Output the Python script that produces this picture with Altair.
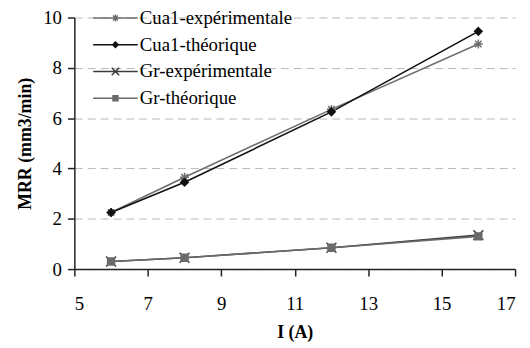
import altair as alt
import pandas as pd

# ---- data ----
current_A = [6, 8, 12, 16]
cua1_exp = [2.25, 3.65, 6.35, 8.95]
cua1_theo = [2.25, 3.45, 6.25, 9.45]
gr_exp = [0.3, 0.45, 0.85, 1.35]
gr_theo = [0.3, 0.45, 0.85, 1.3]
series_names = ["Cua1-expérimentale", "Cua1-théorique", "Gr-expérimentale", "Gr-théorique"]
x_ticks = [5, 7, 9, 11, 13, 15, 17]
y_ticks = [0, 2, 4, 6, 8, 10]

# ---- styles ----
colors = ["#6e6e6e", "#111111", "#3c3c3c", "#6a6a6a"]
marker_paths = [
    "M-0.9,0L0.9,0M0,-0.9L0,0.9M-0.65,-0.65L0.65,0.65M-0.65,0.65L0.65,-0.65",
    "M0,-0.75L0.75,0L0,0.75L-0.75,0Z",
    "M-1,-1L1,1M-1,1L1,-1",
    "M-0.7,-0.7L0.7,-0.7L0.7,0.7L-0.7,0.7Z",
]
legend_paths = [
    "M-4.5,0L4.5,0M-0.7,0L0.7,0M0,-0.7L0,0.7M-0.5,-0.5L0.5,0.5M-0.5,0.5L0.5,-0.5",
    "M-4.5,0L4.5,0M0,-0.55L0.55,0L0,0.55L-0.55,0Z",
    "M-4.5,0L4.5,0M-0.75,-0.75L0.75,0.75M-0.75,0.75L0.75,-0.75",
    "M-4.5,0L4.5,0M-0.5,-0.5L0.5,-0.5L0.5,0.5L-0.5,0.5Z",
]

rows = []
for name, vals in zip(series_names, [cua1_exp, cua1_theo, gr_exp, gr_theo]):
    for xv, yv in zip(current_A, vals):
        rows.append({"I": xv, "MRR": yv, "s": name, "label": name})
df = pd.DataFrame(rows)

FONT = "Liberation Serif, Times New Roman, serif"

x_enc = alt.X("I:Q", scale=alt.Scale(domain=[5, 17], nice=False),
              axis=alt.Axis(values=x_ticks, title="I (A)", grid=False))
y_enc = alt.Y("MRR:Q", scale=alt.Scale(domain=[0, 10], nice=False),
              axis=alt.Axis(values=y_ticks, title="MRR (mm3/min)", grid=True,
                            gridDash=[8, 5], gridColor="#b8b8b8", gridWidth=1))

cscale = alt.Scale(domain=series_names, range=colors)

base = alt.Chart(df)

lines = base.mark_line(strokeWidth=1.6).encode(
    x=x_enc, y=y_enc,
    color=alt.Color("s:N", scale=cscale, legend=None),
    detail="s:N",
)

points = base.mark_point(filled=True, strokeWidth=1.5, opacity=1).encode(
    x=x_enc, y=y_enc,
    shape=alt.Shape("s:N", scale=alt.Scale(domain=series_names, range=marker_paths), legend=None),
    fill=alt.Fill("s:N", scale=cscale, legend=None),
    stroke=alt.Stroke("s:N", scale=cscale, legend=None),
    size=alt.value(100),
)

leg = alt.Legend(orient="none", legendX=32, legendY=-9, title=None,
                 symbolSize=100, symbolStrokeWidth=1.5, labelFont=FONT,
                 labelFontSize=19, labelOffset=15, rowPadding=7, padding=0,
                 labelColor="#000000", symbolOpacity=1, labelLimit=400)

legend_layer = base.mark_point(filled=True, strokeWidth=1.5).encode(
    x=x_enc, y=y_enc,
    shape=alt.Shape("label:N", scale=alt.Scale(domain=series_names, range=legend_paths), legend=leg),
    fill=alt.Fill("label:N", scale=alt.Scale(domain=series_names, range=colors), legend=leg),
    stroke=alt.Stroke("label:N", scale=alt.Scale(domain=series_names, range=colors), legend=leg),
).transform_filter("false")

chart = alt.layer(lines, points, legend_layer).resolve_scale(
    shape="independent", fill="independent", stroke="independent"
).properties(
    width=445, height=254,
    autosize=alt.AutoSizeParams(type="none"),
    padding={"left": 67, "top": 8, "right": 7, "bottom": 72},
).configure_view(stroke=None).configure_axis(
    labelFont=FONT, labelFontSize=19, labelColor="#000000",
    titleFont=FONT, titleFontSize=18, titleFontWeight="bold", titleColor="#000000",
    domainColor="#222222", tickColor="#222222", tickSize=7, domainWidth=1.5, tickWidth=1.5,
).configure_axisY(
    labelPadding=6, titlePadding=8,
).configure_axisX(
    labelPadding=19, titlePadding=10,
)

chart.save("out.html", embed_options={"renderer": "svg", "actions": False})
